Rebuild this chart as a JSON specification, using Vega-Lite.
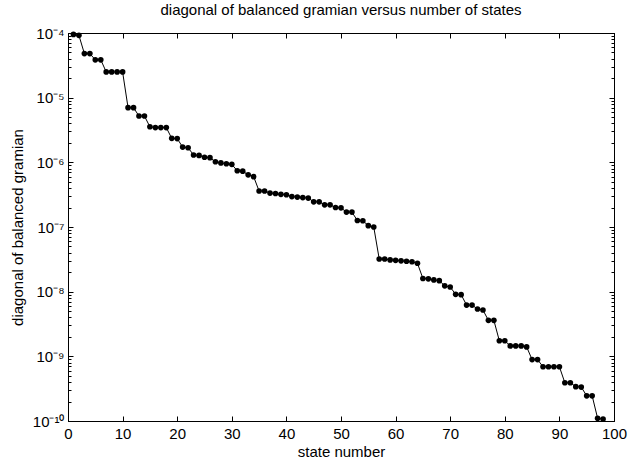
{
  "$schema": "https://vega.github.io/schema/vega-lite/v6.json",
  "autosize": "none",
  "width": 546,
  "height": 388,
  "padding": {"left": 68, "top": 33, "right": 17, "bottom": 43},
  "background": "white",
  "title": {"text": "diagonal of balanced gramian versus number of states", "fontSize": 15, "font": "Liberation Sans", "fontWeight": "normal", "color": "black", "offset": 8},
  "config": {
    "view": {"stroke": "black", "strokeWidth": 1},
    "axis": {"grid": false, "domainColor": "black", "tickColor": "black", "labelColor": "black", "titleColor": "black", "labelFont": "Liberation Sans", "titleFont": "Liberation Sans", "labelFontSize": 15, "titleFontSize": 15, "titleFontWeight": "normal", "domainWidth": 1, "tickWidth": 1}
  },
  "data": {"values": [
    {"n":1,"v":9.5e-5},{"n":2,"v":9.2e-5},{"n":3,"v":4.8e-5},{"n":4,"v":4.8e-5},{"n":5,"v":3.85e-5},{"n":6,"v":3.85e-5},
    {"n":7,"v":2.5e-5},{"n":8,"v":2.5e-5},{"n":9,"v":2.5e-5},{"n":10,"v":2.5e-5},{"n":11,"v":7.0e-6},{"n":12,"v":7.0e-6},
    {"n":13,"v":5.2e-6},{"n":14,"v":5.2e-6},{"n":15,"v":3.55e-6},{"n":16,"v":3.45e-6},{"n":17,"v":3.45e-6},{"n":18,"v":3.45e-6},
    {"n":19,"v":2.35e-6},{"n":20,"v":2.33e-6},{"n":21,"v":1.72e-6},{"n":22,"v":1.68e-6},{"n":23,"v":1.3e-6},{"n":24,"v":1.28e-6},
    {"n":25,"v":1.2e-6},{"n":26,"v":1.18e-6},{"n":27,"v":1.02e-6},{"n":28,"v":9.8e-7},{"n":29,"v":9.5e-7},{"n":30,"v":9.3e-7},
    {"n":31,"v":7.4e-7},{"n":32,"v":7.3e-7},{"n":33,"v":6.4e-7},{"n":34,"v":6.0e-7},{"n":35,"v":3.6e-7},{"n":36,"v":3.6e-7},
    {"n":37,"v":3.35e-7},{"n":38,"v":3.3e-7},{"n":39,"v":3.2e-7},{"n":40,"v":3.15e-7},{"n":41,"v":2.95e-7},{"n":42,"v":2.9e-7},
    {"n":43,"v":2.85e-7},{"n":44,"v":2.8e-7},{"n":45,"v":2.45e-7},{"n":46,"v":2.45e-7},{"n":47,"v":2.2e-7},{"n":48,"v":2.2e-7},
    {"n":49,"v":2.0e-7},{"n":50,"v":1.98e-7},{"n":51,"v":1.7e-7},{"n":52,"v":1.7e-7},{"n":53,"v":1.26e-7},{"n":54,"v":1.25e-7},
    {"n":55,"v":1.05e-7},{"n":56,"v":1.0e-7},{"n":57,"v":3.2e-8},{"n":58,"v":3.2e-8},{"n":59,"v":3.1e-8},{"n":60,"v":3.05e-8},
    {"n":61,"v":3.0e-8},{"n":62,"v":2.95e-8},{"n":63,"v":2.9e-8},{"n":64,"v":2.75e-8},{"n":65,"v":1.6e-8},{"n":66,"v":1.58e-8},
    {"n":67,"v":1.52e-8},{"n":68,"v":1.48e-8},{"n":69,"v":1.23e-8},{"n":70,"v":1.18e-8},{"n":71,"v":9.1e-9},{"n":72,"v":9.0e-9},
    {"n":73,"v":6.2e-9},{"n":74,"v":6.2e-9},{"n":75,"v":5.4e-9},{"n":76,"v":5.2e-9},{"n":77,"v":3.6e-9},{"n":78,"v":3.6e-9},
    {"n":79,"v":1.74e-9},{"n":80,"v":1.74e-9},{"n":81,"v":1.45e-9},{"n":82,"v":1.45e-9},{"n":83,"v":1.45e-9},{"n":84,"v":1.4e-9},
    {"n":85,"v":8.9e-10},{"n":86,"v":8.9e-10},{"n":87,"v":6.9e-10},{"n":88,"v":6.9e-10},{"n":89,"v":6.9e-10},{"n":90,"v":6.9e-10},
    {"n":91,"v":3.9e-10},{"n":92,"v":3.9e-10},{"n":93,"v":3.4e-10},{"n":94,"v":3.35e-10},{"n":95,"v":2.45e-10},{"n":96,"v":2.45e-10},
    {"n":97,"v":1.1e-10},{"n":98,"v":1.07e-10}
  ]},
  "layer": [
    {
      "mark": {"type": "line", "color": "black", "strokeWidth": 1},
      "encoding": {
        "x": {"field": "n", "type": "quantitative", "scale": {"domain": [0, 100], "nice": false},
              "axis": {"orient": "bottom", "title": "state number", "values": [0,10,20,30,40,50,60,70,80,90,100], "tickSize": -5, "labelPadding": 10, "titlePadding": 3, "labelFlush": false}},
        "y": {"field": "v", "type": "quantitative", "scale": {"type": "log", "domain": [1e-10, 1e-4], "nice": false},
              "axis": {"orient": "left", "title": "diagonal of balanced gramian", "values": [1e-10,1e-9,1e-8,1e-7,1e-6,1e-5,1e-4], "tickSize": -5, "labelPadding": 9, "titlePadding": 7, "labelFlush": false,
                       "labelExpr": "'10' + ['','','','','⁻⁴','⁻⁵','⁻⁶','⁻⁷','⁻⁸','⁻⁹','⁻¹⁰'][-round(log(datum.value)/LN10)]"}}
      }
    },
    {
      "mark": {"type": "point", "filled": true, "color": "black", "size": 32, "opacity": 1},
      "encoding": {
        "x": {"field": "n", "type": "quantitative", "axis": {"orient": "top", "title": null, "labels": false, "values": [0,10,20,30,40,50,60,70,80,90,100], "tickSize": -5}},
        "y": {"field": "v", "type": "quantitative", "axis": {"orient": "right", "title": null, "labels": false, "values": [1e-10,1e-9,1e-8,1e-7,1e-6,1e-5,1e-4], "tickSize": -5}}
      }
    },
    {
      "mark": {"type": "point", "opacity": 0},
      "encoding": {
        "x": {"field": "n", "type": "quantitative", "axis": null},
        "y": {"field": "v", "type": "quantitative", "axis": {"orient": "left", "title": null, "labels": false, "domain": false, "tickSize": -3,
              "values": [2e-10,3e-10,4e-10,5e-10,6e-10,7e-10,8e-10,9e-10,2e-9,3e-9,4e-9,5e-9,6e-9,7e-9,8e-9,9e-9,2e-8,3e-8,4e-8,5e-8,6e-8,7e-8,8e-8,9e-8,2e-7,3e-7,4e-7,5e-7,6e-7,7e-7,8e-7,9e-7,2e-6,3e-6,4e-6,5e-6,6e-6,7e-6,8e-6,9e-6,2e-5,3e-5,4e-5,5e-5,6e-5,7e-5,8e-5,9e-5]}}
      }
    },
    {
      "mark": {"type": "point", "opacity": 0},
      "encoding": {
        "x": {"field": "n", "type": "quantitative", "axis": null},
        "y": {"field": "v", "type": "quantitative", "axis": {"orient": "right", "title": null, "labels": false, "domain": false, "tickSize": -3,
              "values": [2e-10,3e-10,4e-10,5e-10,6e-10,7e-10,8e-10,9e-10,2e-9,3e-9,4e-9,5e-9,6e-9,7e-9,8e-9,9e-9,2e-8,3e-8,4e-8,5e-8,6e-8,7e-8,8e-8,9e-8,2e-7,3e-7,4e-7,5e-7,6e-7,7e-7,8e-7,9e-7,2e-6,3e-6,4e-6,5e-6,6e-6,7e-6,8e-6,9e-6,2e-5,3e-5,4e-5,5e-5,6e-5,7e-5,8e-5,9e-5]}}
      }
    }
  ],
  "resolve": {"axis": {"x": "independent", "y": "independent"}}
}
